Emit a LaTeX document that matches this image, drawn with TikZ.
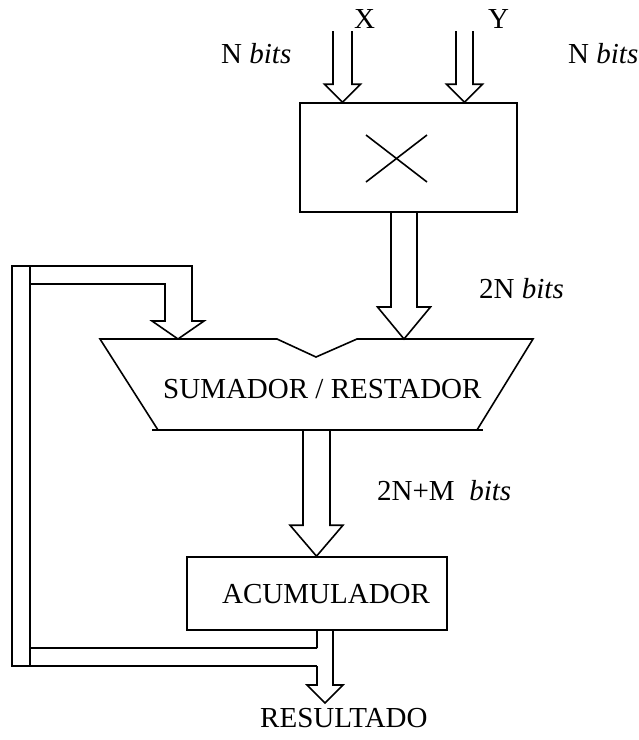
\documentclass[tikz,border=0pt]{standalone}
\usepackage{fontspec}
\setmainfont{Liberation Serif}
\usetikzlibrary{calc}

\tikzset{
  box/.style={draw, line width=1.6pt, inner sep=0pt},
  bus/.style={draw, line width=1.6pt, line join=miter},
  lbl/.style={inner sep=0pt, anchor=base west, font=\fontsize{29}{35}\selectfont},
}
% hollow bus arrow: start, tip, half shaft, half head, head length
\newcommand{\busarrow}[5]{%
  \draw[bus] let \p1=(#1), \p2=(#2) in
    (\x2-#3pt,\y1) -- (\x2-#3pt,\y2+#5pt) -- (\x2-#4pt,\y2+#5pt) -- (\x2,\y2)
    -- (\x2+#4pt,\y2+#5pt) -- (\x2+#3pt,\y2+#5pt) -- (\x2+#3pt,\y1);}

\begin{document}
\begin{tikzpicture}[x=1pt,y=-1pt]
  \useasboundingbox (0,0) rectangle (639,740);

  % blocks
  \node[box, minimum width=217pt, minimum height=109pt] (mult) at (408.5,157.5) {};
  \draw[bus] (366,135) -- (427,182) (366,182) -- (427,135);
  \node[box, minimum width=260pt, minimum height=73pt] (acc) at (317,593.5) {};

  % sumador / restador
  \coordinate (sumtl) at (100,339);
  \coordinate (sumtr) at (533,339);
  \coordinate (sumout) at (316.5,430);
  \coordinate (prodin) at (404,339);
  \coordinate (fbin) at (178,339);
  \draw[bus] (158,430) -- (sumtl) -- (277,339) -- (316,357) -- (357,339) -- (sumtr) -- (477,430);
  \draw[bus] (152,430) -- (483,430);

  % inputs
  \coordinate (xtop) at (342.5,31);
  \coordinate (ytop) at (464.5,31);
  \busarrow{xtop}{xtop |- mult.north}{9.5}{18}{18}
  \busarrow{ytop}{ytop |- mult.north}{8.5}{18}{18}
  \busarrow{mult.south -| prodin}{prodin}{13}{26.5}{32}
  \busarrow{sumout}{sumout |- acc.north}{13.5}{26.5}{31}

  % feedback
  \draw[bus] (12,266) rectangle (30,666);
  \draw[bus] (30,284) -- (165,284) -- (165,321) -- (152,321) -- (fbin)
    -- (204,321) -- (192,321) -- (192,266) -- (30,266);
  \draw[bus] (30,648) -- (317,648) (30,666) -- (317,666);
  \draw[bus] (acc.south -| 317,0) -- (317,648) (317,666) -- (317,685) -- (307,685)
    -- (325,703) -- (343,685) -- (333,685) -- (acc.south -| 333,0);

  % texts
  \node[lbl] (xlbl) at (354,28) {X};
  \node[lbl] (ylbl) at (488,28) {Y};
  \node[lbl] (nx) at (221,63) {N \textit{bits}};
  \node[lbl] (ny) at (568,63) {N \textit{bits}};
  \node[lbl] (n2) at (479,298) {2N \textit{bits}};
  \node[lbl] (n2m) at (377,500) {2N+M\ \ \textit{bits}};
  \node[lbl] (sumlbl) at (163,398) {SUMADOR / RESTADOR};
  \node[lbl] (acclbl) at (222,603) {ACUMULADOR};
  \node[lbl] (res) at (260,727) {RESULTADO};
\end{tikzpicture}
\end{document}
